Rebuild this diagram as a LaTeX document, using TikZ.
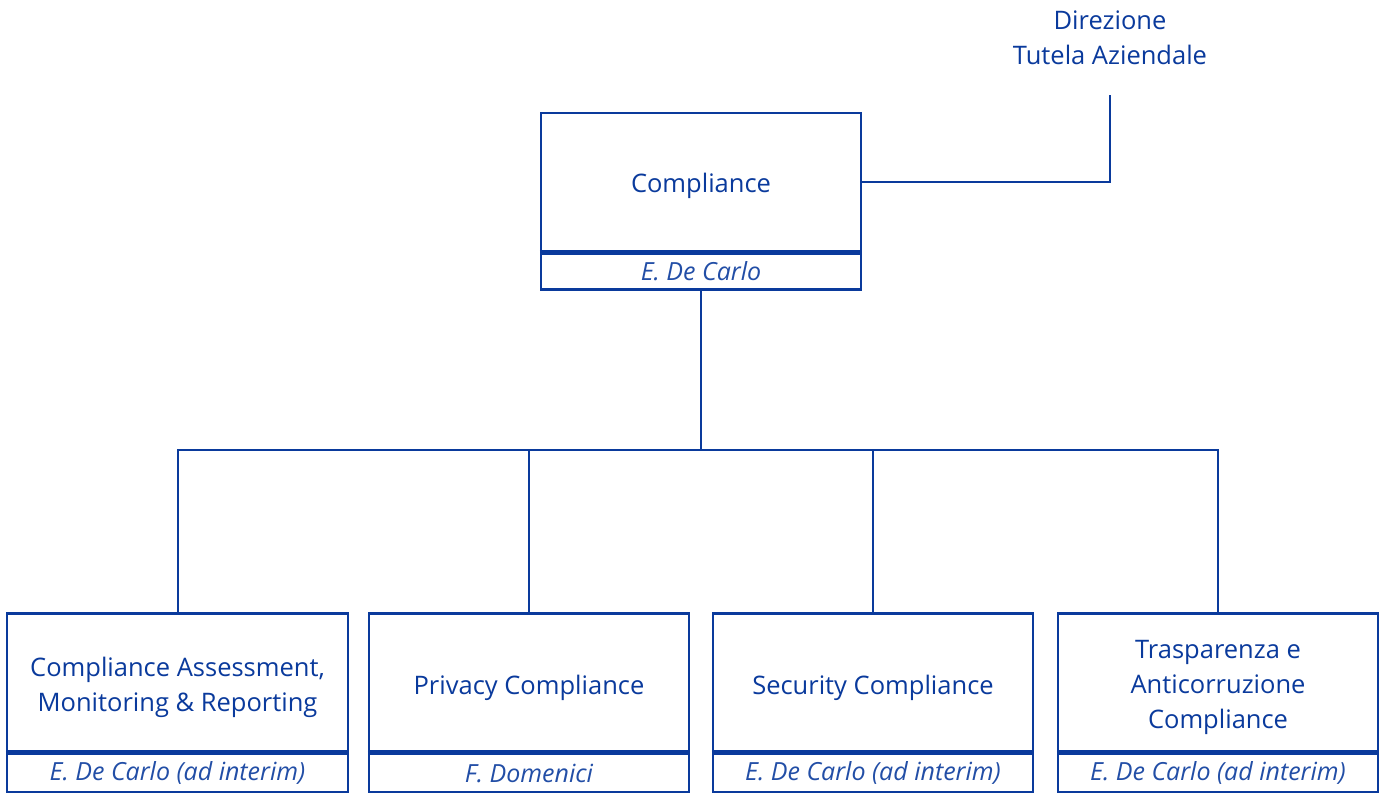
\documentclass[tikz,border=0pt]{standalone}
\usepackage{fontspec}
\setmainfont{Open Sans}
\usetikzlibrary{positioning}
\definecolor{orgblue}{HTML}{0A3A9C}

\begin{document}
\begin{tikzpicture}[
  x=1pt, y=-1pt,
  unit/.style={
    draw=orgblue, line width=2.5pt, inner sep=0pt,
    minimum height=138pt},
  title/.style={
    text=orgblue, align=center, inner sep=0pt,
    font=\fontsize{25.5}{35}\selectfont},
  who/.style={
    draw=orgblue, line width=2.5pt, text=orgblue!90, inner sep=0pt,
    font=\fontsize{25}{28}\selectfont\itshape,
    minimum height=38pt},
  divider/.style={orgblue, line width=3.5pt},
  link/.style={orgblue, line width=2pt},
  trunk/.style={orgblue, line width=2.5pt},
  ann/.style={text=orgblue, align=center, font=\fontsize{25.5}{35}\selectfont},
]
  \useasboundingbox (0,0) rectangle (1383,794);

  %% ---- Vertice ----
  \node[unit, minimum width=320pt] (comp) at (701,182) {};
  \node[title] (comp-t) at ([yshift=-4pt]comp.center) {Compliance};
  \node[who, minimum width=320pt, minimum height=36pt, below=0pt of comp] (comp-who) {E. De Carlo};
  \draw[divider] (comp.south west) -- (comp.south east);

  %% ---- Riporto ----
  \node[ann] (dir) at (1110,38) {Direzione\\Tutela Aziendale};
  \coordinate (dir-foot) at (1110,95);
  \draw[link] (comp.east) -| (dir-foot);

  %% ---- Unita' organizzative ----
  \node[unit, minimum width=341pt] (cam) at (177.5,682.5) {};
  \node[unit, minimum width=320pt] (priv) at (529,682.5) {};
  \node[unit, minimum width=320pt] (sec)  at (873,682.5) {};
  \node[unit, minimum width=320pt] (tac)  at (1218,682.5) {};

  \node[title] (cam-t)  at ([yshift=-5pt]cam.center)  {Compliance Assessment,\\Monitoring \& Reporting};
  \node[title] (priv-t) at ([yshift=-5pt]priv.center) {Privacy Compliance};
  \node[title] (sec-t)  at ([yshift=-5pt]sec.center)  {Security Compliance};
  \node[title] (tac-t)  at ([yshift=-5pt]tac.center)  {Trasparenza e\\Anticorruzione\\Compliance};

  \node[who, minimum width=341pt, below=0pt of cam]  (cam-who)  {E. De Carlo (ad interim)};
  \node[who, minimum width=320pt, below=0pt of priv] (priv-who) {F. Domenici};
  \node[who, minimum width=320pt, below=0pt of sec]  (sec-who)  {E. De Carlo (ad interim)};
  \node[who, minimum width=320pt, below=0pt of tac]  (tac-who)  {E. De Carlo (ad interim)};

  \foreach \u in {cam,priv,sec,tac}{
    \draw[divider] (\u.south west) -- (\u.south east);
  }

  %% ---- Collegamenti ----
  \coordinate (bus) at (701,450);
  \draw[trunk] (comp-who.south) -- (bus);
  \foreach \u in {cam,priv,sec,tac}{
    \draw[link] (bus) -| (\u.north);
  }
\end{tikzpicture}
\end{document}
